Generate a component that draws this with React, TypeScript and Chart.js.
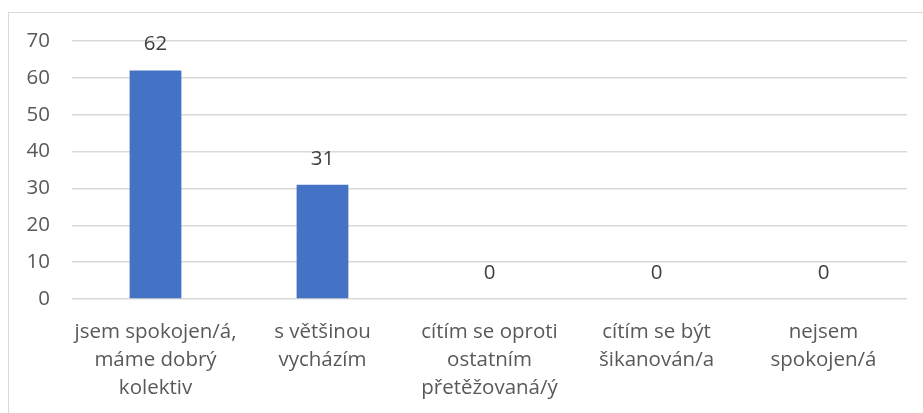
import React, { useEffect, useRef } from "react";
import { Chart, registerables } from "chart.js";

Chart.register(...registerables);

const categories: string[][] = [
  ["jsem spokojen/á,", "máme dobrý", "kolektiv"],
  ["s většinou", "vycházím"],
  ["cítím se oproti", "ostatním", "přetěžovaná/ý"],
  ["cítím se být", "šikanován/a"],
  ["nejsem", "spokojen/á"],
];
const values: number[] = [62, 31, 0, 0, 0];
const yMin = 0;
const yMax = 70;
const yStep = 10;

const FONT = "'Open Sans', sans-serif";

const valueLabels = {
  id: "valueLabels",
  afterDatasetsDraw(chart: any) {
    const ctx = chart.ctx;
    const meta = chart.getDatasetMeta(0);
    ctx.save();
    ctx.font = `20.5px ${FONT}`;
    ctx.fillStyle = "#404040";
    ctx.textAlign = "center";
    ctx.textBaseline = "middle";
    meta.data.forEach((bar: any, i: number) => {
      ctx.fillText(String(values[i]), bar.x, bar.y - 26);
    });
    ctx.restore();
  },
};

export default function App() {
  const ref = useRef<HTMLCanvasElement>(null);
  useEffect(() => {
    if (!ref.current) return;
    const chart = new Chart(ref.current, {
      type: "bar",
      data: {
        labels: categories,
        datasets: [
          {
            data: values,
            backgroundColor: "#4472C4",
            categoryPercentage: 1,
            barPercentage: 0.31,
          },
        ],
      },
      options: {
        animation: false,
        responsive: false,
        maintainAspectRatio: false,
        layout: { padding: { top: 41, right: 16, left: 0, bottom: 0 } },
        plugins: { legend: { display: false }, tooltip: { enabled: false } },
        scales: {
          x: {
            grid: { display: false, drawTicks: false },
            border: { display: false },
            ticks: {
              color: "#595959",
              font: { family: FONT, size: 20.5, lineHeight: 1.36 },
              padding: 19,
              maxRotation: 0,
              autoSkip: false,
            },
            afterFit(scale: any) {
              scale.height = 114;
            },
          },
          y: {
            min: yMin,
            max: yMax,
            grid: { color: "#d9d9d9", lineWidth: 1.5, drawTicks: false },
            border: { display: false },
            ticks: {
              stepSize: yStep,
              color: "#595959",
              font: { family: FONT, size: 20.5 },
              padding: 22,
            },
            afterFit(scale: any) {
              scale.width = 72;
            },
          },
        },
      },
      plugins: [valueLabels],
    });
    return () => chart.destroy();
  }, []);
  return (
    <>
      <canvas
        ref={ref}
        width={923}
        height={413}
        style={{ position: "fixed", left: 0, top: 0, width: 923, height: 413 }}
      />
      <div
        style={{
          position: "fixed",
          left: 8,
          top: 12,
          width: 940,
          height: 440,
          border: "1px solid #d9d9d9",
          pointerEvents: "none",
        }}
      />
    </>
  );
}
